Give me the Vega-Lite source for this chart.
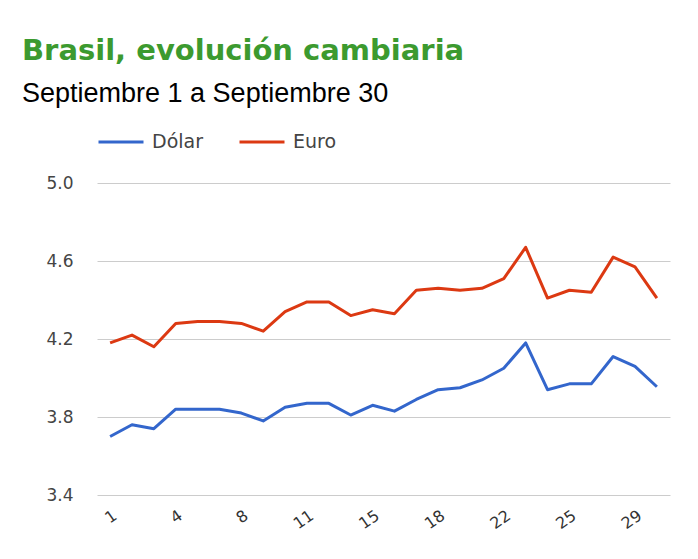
{
  "$schema": "https://vega.github.io/schema/vega-lite/v6.json",
  "width": 573,
  "height": 312,
  "autosize": {"type": "none"},
  "padding": {"left": 97, "top": 183, "right": 28, "bottom": 64},
  "background": "white",
  "title": {
    "text": "Brasil, evolución cambiaria",
    "subtitle": "Septiembre 1 a Septiembre 30",
    "anchor": "start",
    "frame": "group",
    "dx": -75,
    "font": "DejaVu Sans",
    "fontSize": 29,
    "fontWeight": "bold",
    "color": "#3c9a2f",
    "subtitleFont": "Liberation Sans",
    "subtitleFontSize": 27,
    "subtitleColor": "#000000",
    "subtitlePadding": 15,
    "offset": 11
  },
  "data": {
    "values": [
      {"dia": 1, "moneda": "Dólar", "valor": 3.70},
      {"dia": 2, "moneda": "Dólar", "valor": 3.76},
      {"dia": 3, "moneda": "Dólar", "valor": 3.74},
      {"dia": 4, "moneda": "Dólar", "valor": 3.84},
      {"dia": 5, "moneda": "Dólar", "valor": 3.84},
      {"dia": 6, "moneda": "Dólar", "valor": 3.84},
      {"dia": 8, "moneda": "Dólar", "valor": 3.82},
      {"dia": 9, "moneda": "Dólar", "valor": 3.78},
      {"dia": 10, "moneda": "Dólar", "valor": 3.85},
      {"dia": 11, "moneda": "Dólar", "valor": 3.87},
      {"dia": 12, "moneda": "Dólar", "valor": 3.87},
      {"dia": 13, "moneda": "Dólar", "valor": 3.81},
      {"dia": 15, "moneda": "Dólar", "valor": 3.86},
      {"dia": 16, "moneda": "Dólar", "valor": 3.83},
      {"dia": 17, "moneda": "Dólar", "valor": 3.89},
      {"dia": 18, "moneda": "Dólar", "valor": 3.94},
      {"dia": 19, "moneda": "Dólar", "valor": 3.95},
      {"dia": 20, "moneda": "Dólar", "valor": 3.99},
      {"dia": 22, "moneda": "Dólar", "valor": 4.05},
      {"dia": 23, "moneda": "Dólar", "valor": 4.18},
      {"dia": 24, "moneda": "Dólar", "valor": 3.94},
      {"dia": 25, "moneda": "Dólar", "valor": 3.97},
      {"dia": 26, "moneda": "Dólar", "valor": 3.97},
      {"dia": 27, "moneda": "Dólar", "valor": 4.11},
      {"dia": 29, "moneda": "Dólar", "valor": 4.06},
      {"dia": 30, "moneda": "Dólar", "valor": 3.955},
      {"dia": 1, "moneda": "Euro", "valor": 4.18},
      {"dia": 2, "moneda": "Euro", "valor": 4.22},
      {"dia": 3, "moneda": "Euro", "valor": 4.16},
      {"dia": 4, "moneda": "Euro", "valor": 4.28},
      {"dia": 5, "moneda": "Euro", "valor": 4.29},
      {"dia": 6, "moneda": "Euro", "valor": 4.29},
      {"dia": 8, "moneda": "Euro", "valor": 4.28},
      {"dia": 9, "moneda": "Euro", "valor": 4.24},
      {"dia": 10, "moneda": "Euro", "valor": 4.34},
      {"dia": 11, "moneda": "Euro", "valor": 4.39},
      {"dia": 12, "moneda": "Euro", "valor": 4.39},
      {"dia": 13, "moneda": "Euro", "valor": 4.32},
      {"dia": 15, "moneda": "Euro", "valor": 4.35},
      {"dia": 16, "moneda": "Euro", "valor": 4.33},
      {"dia": 17, "moneda": "Euro", "valor": 4.45},
      {"dia": 18, "moneda": "Euro", "valor": 4.46},
      {"dia": 19, "moneda": "Euro", "valor": 4.45},
      {"dia": 20, "moneda": "Euro", "valor": 4.46},
      {"dia": 22, "moneda": "Euro", "valor": 4.51},
      {"dia": 23, "moneda": "Euro", "valor": 4.67},
      {"dia": 24, "moneda": "Euro", "valor": 4.41},
      {"dia": 25, "moneda": "Euro", "valor": 4.45},
      {"dia": 26, "moneda": "Euro", "valor": 4.44},
      {"dia": 27, "moneda": "Euro", "valor": 4.62},
      {"dia": 29, "moneda": "Euro", "valor": 4.57},
      {"dia": 30, "moneda": "Euro", "valor": 4.41}
    ]
  },
  "mark": {"type": "line", "strokeWidth": 3, "strokeJoin": "round"},
  "encoding": {
    "x": {
      "field": "dia",
      "type": "ordinal",
      "scale": {"type": "point", "padding": 0.6},
      "axis": {
        "title": null,
        "values": [1, 4, 8, 11, 15, 18, 22, 25, 29],
        "labelAngle": -35,
        "labelFont": "DejaVu Sans",
        "labelFontSize": 16,
        "labelColor": "#333333",
        "labelPadding": 12,
        "ticks": false,
        "domain": false,
        "grid": false
      }
    },
    "y": {
      "field": "valor",
      "type": "quantitative",
      "scale": {"domain": [3.4, 5.0], "nice": false, "zero": false},
      "axis": {
        "title": null,
        "values": [3.4, 3.8, 4.2, 4.6, 5.0],
        "format": ".1f",
        "labelFont": "DejaVu Sans",
        "labelFontSize": 17,
        "labelColor": "#444444",
        "labelPadding": 24,
        "ticks": false,
        "domain": false,
        "grid": true,
        "gridColor": "#cccccc",
        "gridWidth": 1
      }
    },
    "color": {
      "field": "moneda",
      "type": "nominal",
      "scale": {"domain": ["Dólar", "Euro"], "range": ["#3366cc", "#dc3912"]},
      "legend": {
        "title": null,
        "orient": "none",
        "direction": "horizontal",
        "legendX": 0,
        "legendY": -65,
        "symbolType": "stroke",
        "symbolSize": 2025,
        "symbolStrokeWidth": 3,
        "labelFont": "DejaVu Sans",
        "labelFontSize": 19,
        "labelColor": "#444444",
        "labelOffset": 7,
        "columnPadding": 30
      }
    }
  },
  "config": {"view": {"stroke": null}}
}
